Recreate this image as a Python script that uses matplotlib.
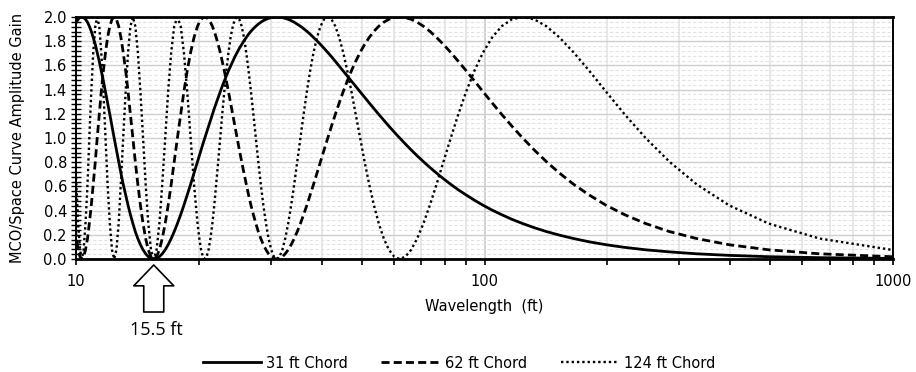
import matplotlib
matplotlib.use("Agg")
import matplotlib.pyplot as plt
from matplotlib.ticker import MultipleLocator, LogLocator, FixedLocator, FixedFormatter, NullFormatter

# ---------------- data ----------------
wavelength_ft = [
    1984, 992, 661.3, 496, 396.8, 330.7, 283.4, 248, 220.4, 198.4,
    180.4, 165.3, 152.6, 141.7, 132.3, 124, 116.7, 110.2, 104.4, 99.2,
    94.48, 90.18, 86.26, 82.67, 79.36, 76.31, 73.48, 70.86, 68.41, 66.13,
    64, 62, 60.12, 58.35, 56.69, 55.11, 53.62, 52.21, 50.87, 49.6,
    48.39, 47.24, 46.14, 45.09, 44.09, 43.13, 42.21, 41.33, 40.49, 39.68,
    38.9, 38.15, 37.43, 36.74, 36.07, 35.43, 34.81, 34.21, 33.63, 33.07,
    32.52, 32, 31.49, 31, 30.52, 30.06, 29.61, 29.18, 28.75, 28.34,
    27.94, 27.56, 27.18, 26.81, 26.45, 26.11, 25.77, 25.44, 25.11, 24.8,
    24.49, 24.2, 23.9, 23.62, 23.34, 23.07, 22.8, 22.55, 22.29, 22.04,
    21.8, 21.57, 21.33, 21.11, 20.88, 20.67, 20.45, 20.24, 20.04, 19.84,
    19.45, 19.08, 18.72, 18.37, 18.04, 17.71, 17.4, 17.1, 16.81, 16.53,
    16.26, 16, 15.75, 15.5, 15.26, 15.03, 14.81, 14.59, 14.38, 14.17,
    13.97, 13.78, 13.59, 13.41, 13.23, 13.05, 12.88, 12.72, 12.56, 12.4,
    12.25, 12.1, 11.95, 11.81, 11.67, 11.53, 11.4, 11.27, 11.15, 11.02,
    10.9, 10.78, 10.67, 10.55, 10.44, 10.33, 10.23, 10.12, 10.02, 9.92,
]

gain_31ft = [
    0.001, 0.005, 0.011, 0.019, 0.030, 0.043, 0.059, 0.076, 0.096, 0.118,
    0.142, 0.169, 0.197, 0.227, 0.259, 0.293, 0.328, 0.366, 0.404, 0.444,
    0.486, 0.529, 0.572, 0.617, 0.663, 0.710, 0.757, 0.805, 0.853, 0.902,
    0.951, 1.000, 1.049, 1.098, 1.147, 1.195, 1.243, 1.290, 1.337, 1.383,
    1.428, 1.471, 1.514, 1.556, 1.596, 1.634, 1.672, 1.707, 1.741, 1.773,
    1.803, 1.831, 1.858, 1.882, 1.904, 1.924, 1.941, 1.957, 1.970, 1.981,
    1.989, 1.995, 1.999, 2.000, 1.999, 1.995, 1.989, 1.981, 1.970, 1.957,
    1.941, 1.924, 1.904, 1.882, 1.858, 1.831, 1.803, 1.773, 1.741, 1.707,
    1.672, 1.634, 1.596, 1.556, 1.514, 1.471, 1.428, 1.383, 1.337, 1.290,
    1.243, 1.195, 1.147, 1.098, 1.049, 1.000, 0.951, 0.902, 0.853, 0.805,
    0.710, 0.617, 0.529, 0.444, 0.366, 0.293, 0.227, 0.169, 0.118, 0.076,
    0.043, 0.019, 0.005, 0.000, 0.005, 0.019, 0.043, 0.076, 0.118, 0.169,
    0.227, 0.293, 0.366, 0.444, 0.529, 0.617, 0.710, 0.805, 0.902, 1.000,
    1.098, 1.195, 1.290, 1.383, 1.471, 1.556, 1.634, 1.707, 1.773, 1.831,
    1.882, 1.924, 1.957, 1.981, 1.995, 2.000, 1.995, 1.981, 1.957, 1.924,
]

gain_62ft = [
    0.005, 0.019, 0.043, 0.076, 0.118, 0.169, 0.227, 0.293, 0.366, 0.444,
    0.529, 0.617, 0.710, 0.805, 0.902, 1.000, 1.098, 1.195, 1.290, 1.383,
    1.471, 1.556, 1.634, 1.707, 1.773, 1.831, 1.882, 1.924, 1.957, 1.981,
    1.995, 2.000, 1.995, 1.981, 1.957, 1.924, 1.882, 1.831, 1.773, 1.707,
    1.634, 1.556, 1.471, 1.383, 1.290, 1.195, 1.098, 1.000, 0.902, 0.805,
    0.710, 0.617, 0.529, 0.444, 0.366, 0.293, 0.227, 0.169, 0.118, 0.076,
    0.043, 0.019, 0.005, 0.000, 0.005, 0.019, 0.043, 0.076, 0.118, 0.169,
    0.227, 0.293, 0.366, 0.444, 0.529, 0.617, 0.710, 0.805, 0.902, 1.000,
    1.098, 1.195, 1.290, 1.383, 1.471, 1.556, 1.634, 1.707, 1.773, 1.831,
    1.882, 1.924, 1.957, 1.981, 1.995, 2.000, 1.995, 1.981, 1.957, 1.924,
    1.831, 1.707, 1.556, 1.383, 1.195, 1.000, 0.805, 0.617, 0.444, 0.293,
    0.169, 0.076, 0.019, 0.000, 0.019, 0.076, 0.169, 0.293, 0.444, 0.617,
    0.805, 1.000, 1.195, 1.383, 1.556, 1.707, 1.831, 1.924, 1.981, 2.000,
    1.981, 1.924, 1.831, 1.707, 1.556, 1.383, 1.195, 1.000, 0.805, 0.617,
    0.444, 0.293, 0.169, 0.076, 0.019, 0.000, 0.019, 0.076, 0.169, 0.293,
]

gain_124ft = [
    0.019, 0.076, 0.169, 0.293, 0.444, 0.617, 0.805, 1.000, 1.195, 1.383,
    1.556, 1.707, 1.831, 1.924, 1.981, 2.000, 1.981, 1.924, 1.831, 1.707,
    1.556, 1.383, 1.195, 1.000, 0.805, 0.617, 0.444, 0.293, 0.169, 0.076,
    0.019, 0.000, 0.019, 0.076, 0.169, 0.293, 0.444, 0.617, 0.805, 1.000,
    1.195, 1.383, 1.556, 1.707, 1.831, 1.924, 1.981, 2.000, 1.981, 1.924,
    1.831, 1.707, 1.556, 1.383, 1.195, 1.000, 0.805, 0.617, 0.444, 0.293,
    0.169, 0.076, 0.019, 0.000, 0.019, 0.076, 0.169, 0.293, 0.444, 0.617,
    0.805, 1.000, 1.195, 1.383, 1.556, 1.707, 1.831, 1.924, 1.981, 2.000,
    1.981, 1.924, 1.831, 1.707, 1.556, 1.383, 1.195, 1.000, 0.805, 0.617,
    0.444, 0.293, 0.169, 0.076, 0.019, 0.000, 0.019, 0.076, 0.169, 0.293,
    0.617, 1.000, 1.383, 1.707, 1.924, 2.000, 1.924, 1.707, 1.383, 1.000,
    0.617, 0.293, 0.076, 0.000, 0.076, 0.293, 0.617, 1.000, 1.383, 1.707,
    1.924, 2.000, 1.924, 1.707, 1.383, 1.000, 0.617, 0.293, 0.076, 0.000,
    0.076, 0.293, 0.617, 1.000, 1.383, 1.707, 1.924, 2.000, 1.924, 1.707,
    1.383, 1.000, 0.617, 0.293, 0.076, 0.000, 0.076, 0.293, 0.617, 1.000,
]

series_labels = ["31 ft Chord", "62 ft Chord", "124 ft Chord"]
x_ticks = [10, 100, 1000]
x_tick_labels = ["10", "100", "1000"]
y_ticks = [0.0, 0.2, 0.4, 0.6, 0.8, 1.0, 1.2, 1.4, 1.6, 1.8, 2.0]
y_tick_labels = ["0.0", "0.2", "0.4", "0.6", "0.8", "1.0", "1.2", "1.4", "1.6", "1.8", "2.0"]
marker_wavelength = 15.5
marker_label = "15.5 ft"
x_label = "Wavelength  (ft)"
y_label = "MCO/Space Curve Amplitude Gain"

# ---------------- figure ----------------
plt.rcParams["font.family"] = ["DejaVu Sans"]
W, H = 916, 372
fig = plt.figure(figsize=(W / 100, H / 100), dpi=100)
ax = fig.add_axes([76 / W, 1 - 259 / H, (893 - 76) / W, (259 - 17) / H])

ax.set_xscale("log")
ax.set_xlim(10, 1000)
ax.set_ylim(0, 2.0)

ax.plot(wavelength_ft, gain_31ft, color="black", lw=2.0, label=series_labels[0])
ax.plot(wavelength_ft, gain_62ft, color="black", lw=2.0, linestyle=(0, (2.9, 1.5)),
        label=series_labels[1])
ax.plot(wavelength_ft, gain_124ft, color="black", lw=1.7, linestyle=(0, (1.0, 1.25)),
        label=series_labels[2])

# ticks
ax.xaxis.set_major_locator(FixedLocator(x_ticks))
ax.xaxis.set_major_formatter(FixedFormatter(x_tick_labels))
ax.xaxis.set_minor_locator(LogLocator(base=10, subs=[2, 3, 4, 5, 6, 7, 8, 9]))
ax.xaxis.set_minor_formatter(NullFormatter())
ax.yaxis.set_major_locator(FixedLocator(y_ticks))
ax.yaxis.set_major_formatter(FixedFormatter(y_tick_labels))
ax.yaxis.set_minor_locator(MultipleLocator(0.04))

ax.tick_params(axis="x", which="both", direction="out", length=4, width=1.2,
               labelsize=10.5, pad=7)
ax.tick_params(axis="y", which="both", direction="inout", length=7, width=1.0,
               labelsize=10.5, pad=3)

# grid
ax.set_axisbelow(True)
ax.grid(which="major", axis="y", color="#cfcfcf", lw=1.0)
ax.grid(which="minor", axis="y", color="#e2e2e2", lw=0.8, linestyle=(0, (3, 2)))
ax.grid(which="major", axis="x", color="#cfcfcf", lw=1.3)
ax.grid(which="minor", axis="x", color="#e6e6e6", lw=1.3)

for side, lw in (("bottom", 2.0), ("top", 2.0), ("left", 1.4), ("right", 1.4)):
    ax.spines[side].set_linewidth(lw)
    ax.spines[side].set_color("black")

ax.set_xlabel(x_label, fontsize=10.5)
ax.xaxis.set_label_coords(0.5, -0.165)
ax.set_ylabel(y_label, fontsize=10.5)
ax.yaxis.set_label_coords(-0.062, 0.5)

# hollow arrow marking the 15.5 ft null
ax.annotate("", xy=(marker_wavelength, 0), xycoords=("data", "axes fraction"),
            xytext=(0, -53), textcoords="offset pixels", annotation_clip=False,
            arrowprops=dict(arrowstyle="simple,head_length=0.75,head_width=1.44,tail_width=0.72",
                            mutation_scale=20, fc="white", ec="black", lw=1.2,
                            shrinkA=0, shrinkB=4.3))
ax.annotate(marker_label, xy=(marker_wavelength, 0), xycoords=("data", "axes fraction"),
            xytext=(3, -71), textcoords="offset pixels", annotation_clip=False,
            ha="center", va="center", fontsize=13, family=["Open Sans", "DejaVu Sans"])

fig.legend(loc="center", bbox_to_anchor=(459 / W, 1 - 363 / H), ncol=3, frameon=False,
           handlelength=4.0, handletextpad=0.35, columnspacing=2.3, fontsize=10.5)

fig.savefig("out.png", dpi=100)
